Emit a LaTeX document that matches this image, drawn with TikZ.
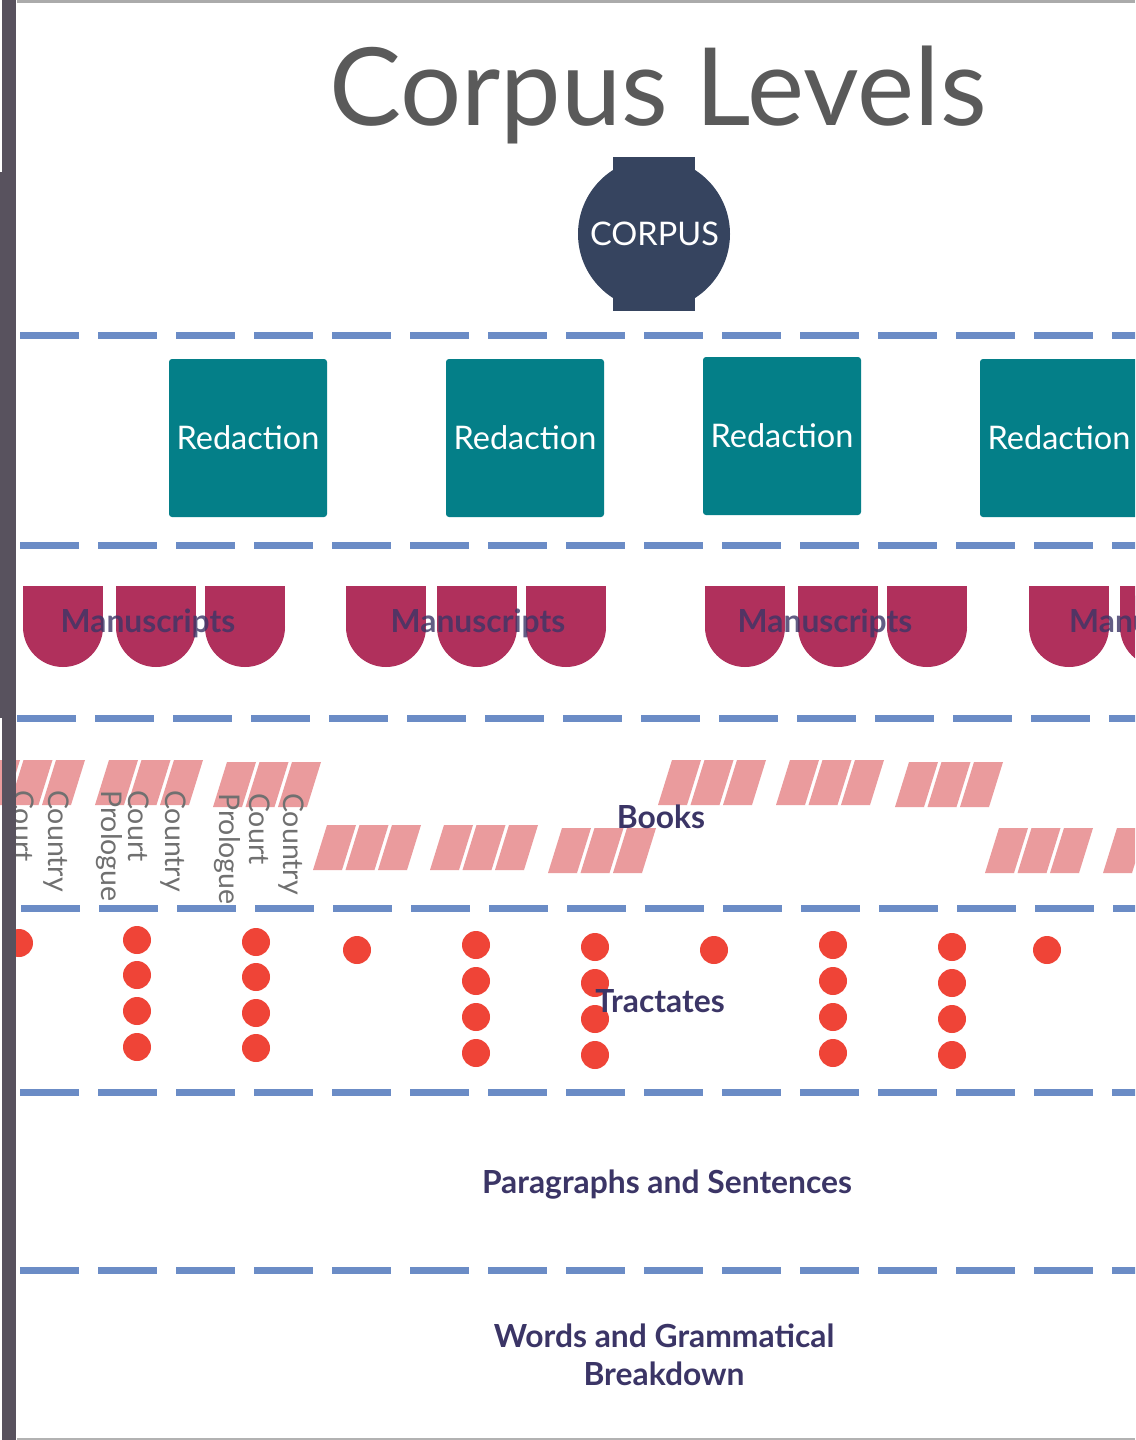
\documentclass[tikz,border=0pt]{standalone}
\usepackage{fontspec}
\setmainfont{Lato}
\definecolor{barc}{HTML}{58525E}
\definecolor{dashc}{HTML}{6B8CC6}
\definecolor{corpusc}{HTML}{36445F}
\definecolor{tealc}{HTML}{047F88}
\definecolor{msc}{HTML}{B0305C}
\definecolor{bookc}{HTML}{EA9B9D}
\definecolor{dotc}{HTML}{EF4437}
\definecolor{labc}{HTML}{3B3566}
\definecolor{titlec}{HTML}{5A5A5A}
\definecolor{smallc}{HTML}{707070}
\tikzset{
  dashline/.style={draw=dashc, line width=7pt, dash pattern=on 59pt off 19pt},
  redbox/.style={fill=tealc, rounded corners=3pt, minimum width=158pt, minimum height=158pt, inner sep=0pt, text=white, font=\fontsize{32.5}{36}\selectfont},
  levellabel/.style={text=labc, font=\bfseries\fontsize{31.8}{38}\selectfont, inner sep=0pt},
  vlabel/.style={text=smallc, font=\fontsize{28.5}{30}\selectfont, rotate=-90, anchor=base west, inner sep=0pt},
  tdot/.style={fill=dotc},
}
\newcommand{\msshape}[2]{%
  \fill[msc] (#1,#2) rectangle ++(80,41);
  \fill[msc] (#1+40,#2+41) circle[radius=40pt];
}
\newcommand{\bookgrp}[2]{%
  \foreach \k in {0,1,2}{%
    \fill[bookc] ({#1+\k*32.5},#2+45) -- ++(29,0) -- ++(14,-45) -- ++(-29,0) -- cycle;
  }%
}
\begin{document}
\begin{tikzpicture}[x=1pt,y=-1pt]
\useasboundingbox (0,0) rectangle (1135,1440);
\begin{scope}
\clip (0,0) rectangle (1135,1440);
\fill[white] (0,0) rectangle (1135,1440);
% frame lines
\fill[black!33] (17,0) rectangle (1135,2.5);
\fill[black!30] (17,1437.5) rectangle (1135,1440);
% title
\node[text=titlec, font=\fontsize{108}{116}\selectfont, anchor=base, inner sep=0pt] (title) at (658,125) {Corpus Levels};
% corpus
\fill[corpusc] (654,234) circle[radius=76pt];
\node[fill=corpusc, minimum width=82pt, minimum height=154pt, inner sep=0pt] (corpusrect) at (654,234) {};
\node[text=white, font=\fontsize{32.5}{36}\selectfont, anchor=base, inner sep=0pt] (corpus) at (654.5,245) {CORPUS};
% dashed separators
\draw[dashline] (20,335) -- (1140,335);
\draw[dashline] (20,545) -- (1140,545);
\draw[dashline] (17,718) -- (1140,718);
\draw[dashline] (21,908) -- (1140,908);
\draw[dashline] (20,1092) -- (1140,1092);
\draw[dashline] (20,1270) -- (1140,1270);
% redactions
\node[redbox] (r1) at (248,438) {Redaction};
\node[redbox] (r2) at (525,438) {Redaction};
\node[redbox] (r3) at (782,436) {Redaction};
\node[redbox] (r4) at (1059,438) {Redaction};
% manuscripts
\msshape{23}{586}\msshape{116}{586}\msshape{205}{586}
\msshape{346}{586}\msshape{437}{586}\msshape{526}{586}
\msshape{705}{586}\msshape{798}{586}\msshape{887}{586}
\msshape{1029}{586}\msshape{1120}{586}
\node[levellabel, anchor=base, opacity=0.8] (m1) at (148,632) {Manuscripts};
\node[levellabel, anchor=base, opacity=0.8] (m2) at (478,632) {Manuscripts};
\node[levellabel, anchor=base, opacity=0.8] (m3) at (825,632) {Manuscripts};
\node[levellabel, anchor=base west, opacity=0.8] (m4) at (1069,632) {Manuscripts};
% books
\bookgrp{-23}{760}\bookgrp{95}{760}\bookgrp{213}{762}
\bookgrp{658}{760}\bookgrp{776}{760}\bookgrp{895}{762}
\bookgrp{313}{825}\bookgrp{430}{825}\bookgrp{548}{828}
\bookgrp{985}{828}\bookgrp{1103}{828}
\node[vlabel] (b1) at (13,790) {Court};
\node[vlabel] (b2) at (48,790) {Country};
\node[vlabel] (b3) at (101,790) {Prologue};
\node[vlabel] (b4) at (128,790) {Court};
\node[vlabel] (b5) at (165,790) {Country};
\node[vlabel] (b6) at (219,793) {Prologue};
\node[vlabel] (b7) at (249,793) {Court};
\node[vlabel] (b8) at (283,793) {Country};
\node[levellabel, anchor=base] (books) at (661,828) {Books};
% tractates
\foreach \x/\y in {19/943, 357/950, 714/950, 1047/950}{\fill[tdot] (\x,\y) circle[radius=14pt];}
\foreach \y in {940,975,1011,1047}{\fill[tdot] (137,\y) circle[radius=14pt];}
\foreach \y in {942,977,1013,1048}{\fill[tdot] (256,\y) circle[radius=14pt];}
\foreach \y in {945,981,1017,1053}{\fill[tdot] (476,\y) circle[radius=14pt]; \fill[tdot] (833,\y) circle[radius=14pt];}
\foreach \y in {947,983,1019,1055}{\fill[tdot] (595,\y) circle[radius=14pt]; \fill[tdot] (952,\y) circle[radius=14pt];}
\node[levellabel, anchor=base] (tract) at (660,1012) {Tractates};
% lower levels
\node[levellabel, anchor=base] (para) at (667,1193) {Paragraphs and Sentences};
\node[levellabel, align=center, anchor=base] (words) at (664,1385) {Words and Grammatical\\Breakdown};
% left bar
\fill[barc] (2,0) rectangle (16,1440);
\fill[barc] (0,172) rectangle (2,718);
\end{scope}
\end{tikzpicture}
\end{document}
